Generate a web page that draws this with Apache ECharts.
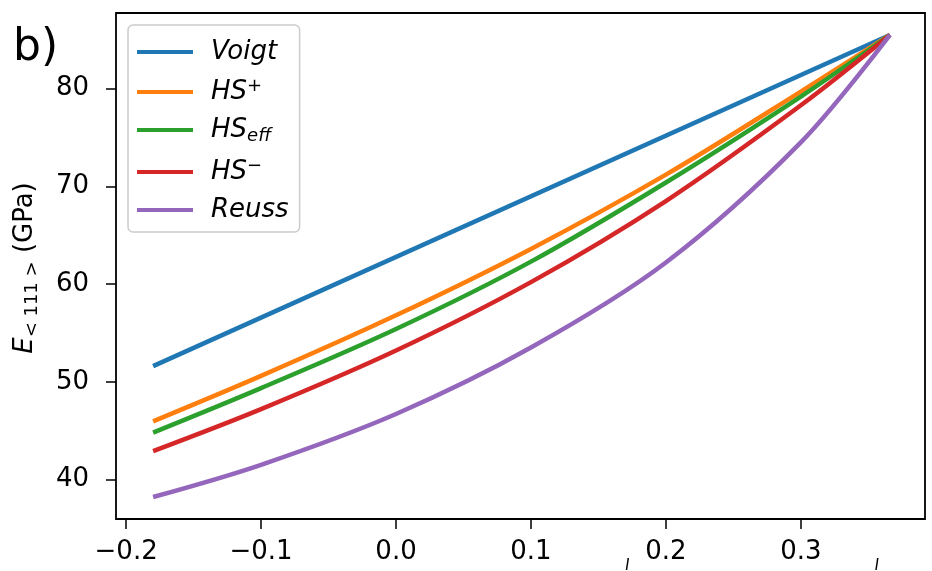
<!DOCTYPE html>
<html>
<head>
<meta charset="utf-8">
<script src="https://cdn.jsdelivr.net/npm/echarts@6/dist/echarts.min.js"></script>
<style>
html,body{margin:0;padding:0;background:#fff;}
#chart{width:932px;height:571px;}
</style>
</head>
<body>
<div id="chart"></div>
<script>
// ---- data ----
const xPts = [-0.18, -0.1, 0.0, 0.1, 0.2, 0.3, 0.366];
const voigtX = [-0.18, 0.366];
const voigt = [51.6, 85.5];
const hsPlus = [45.95, 50.6, 56.8, 63.6, 71.2, 79.7, 85.5];
const hsEff = [44.8, 49.35, 55.4, 62.3, 70.4, 79.2, 85.5];
const hsMinus = [42.9, 47.2, 53.2, 60.2, 68.5, 78.3, 85.5];
const reuss = [38.2, 41.5, 46.7, 53.5, 62.2, 74.5, 85.5];
const seriesNames = ['Voigt', 'HS+', 'HSeff', 'HS−', 'Reuss'];
const xTicks = [-0.2, -0.1, 0.0, 0.1, 0.2, 0.3];
const yTicks = [40, 50, 60, 70, 80];

const colors = ['#1f77b4', '#ff7f0e', '#2ca02c', '#d62728', '#9467bd'];
const FONT = 'DejaVu Sans';

function pairs(xs, ys) { return xs.map((x, i) => [x, ys[i]]); }

const seriesData = [
  pairs(voigtX, voigt),
  pairs(xPts, hsPlus),
  pairs(xPts, hsEff),
  pairs(xPts, hsMinus),
  pairs(xPts, reuss)
];

const legendRich = {
  i: { fontStyle: 'italic', fontSize: 26, fontFamily: FONT, color: '#000', lineHeight: 30, verticalAlign: 'middle' },
  sup: { fontStyle: 'italic', fontSize: 18, fontFamily: FONT, color: '#000', lineHeight: 18, verticalAlign: 'top' },
  sub: { fontStyle: 'italic', fontSize: 18, fontFamily: FONT, color: '#000', lineHeight: 18, verticalAlign: 'bottom' }
};
const legendFmt = {
  'Voigt': '{i|Voigt}',
  'HS+': '{i|HS}{sup|+}',
  'HSeff': '{i|HS}{sub|eff}',
  'HS−': '{i|HS}{sup|−}',
  'Reuss': '{i|Reuss}'
};

const chart = echarts.init(document.getElementById('chart'), null, { renderer: 'canvas' });
chart.setOption({
  animation: false,
  backgroundColor: '#fff',
  grid: {
    left: 116, right: 7, top: 13, bottom: 52,
    show: true, borderColor: '#000', borderWidth: 1.8, backgroundColor: 'transparent'
  },
  xAxis: {
    type: 'value',
    min: -0.2075, max: 0.392,
    axisLine: { show: false, onZero: false },
    splitLine: { show: false },
    axisTick: { show: true, length: 10, customValues: xTicks, lineStyle: { color: '#000', width: 1.5 } },
    axisLabel: {
      customValues: xTicks, margin: 20,
      fontSize: 26, fontFamily: FONT, color: '#000',
      formatter: v => v.toFixed(1).replace('-', '−')
    }
  },
  yAxis: {
    type: 'value',
    min: 35.95, max: 87.75,
    axisLine: { show: false, onZero: false },
    splitLine: { show: false },
    axisTick: { show: true, length: 10, customValues: yTicks, lineStyle: { color: '#000', width: 1.5 } },
    axisLabel: {
      customValues: yTicks, margin: 27,
      fontSize: 26, fontFamily: FONT, color: '#000',
      formatter: v => String(Math.round(v))
    }
  },
  legend: {
    left: 128, top: 25,
    orient: 'vertical',
    icon: 'rect',
    itemWidth: 56, itemHeight: 4,
    itemGap: 12,
    padding: [14, 11, 9, 9],
    borderColor: '#cccccc', borderWidth: 1.5, borderRadius: 5,
    backgroundColor: 'rgba(255,255,255,0.8)',
    data: seriesNames,
    formatter: n => legendFmt[n],
    textStyle: { rich: legendRich, padding: [0, 0, 0, 13], fontSize: 26, fontFamily: FONT }
  },
  series: seriesNames.map((n, k) => ({
    name: n,
    type: 'line',
    data: seriesData[k],
    symbol: 'none',
    smooth: k === 0 ? false : 0.33,
    lineStyle: { width: 4.5, color: colors[k] },
    itemStyle: { color: colors[k] },
    z: 2
  })),
  graphic: [
    {
      type: 'text', left: 13, top: 27,
      style: { text: 'b)', fontSize: 44, fontFamily: FONT, fill: '#000' }
    },
    {
      type: 'text', x: 25, y: 268, rotation: Math.PI / 2,
      style: {
        text: '{e|E}{s|< 111 >}{n| (GPa)}',
        align: 'center', verticalAlign: 'middle',
        rich: {
          e: { fontStyle: 'italic', fontSize: 26, fontFamily: FONT, fill: '#000', lineHeight: 32, verticalAlign: 'middle' },
          s: { fontSize: 18, fontFamily: FONT, fill: '#000', lineHeight: 20, verticalAlign: 'bottom' },
          n: { fontSize: 26, fontFamily: FONT, fill: '#000', lineHeight: 32, verticalAlign: 'middle' }
        }
      }
    },
    { type: 'line', shape: { x1: 626.5, y1: 570, x2: 628.3, y2: 558 }, style: { stroke: '#000', lineWidth: 1.5 } },
    { type: 'line', shape: { x1: 876, y1: 570, x2: 877.8, y2: 558 }, style: { stroke: '#000', lineWidth: 1.5 } }
  ]
});
</script>
</body>
</html>
